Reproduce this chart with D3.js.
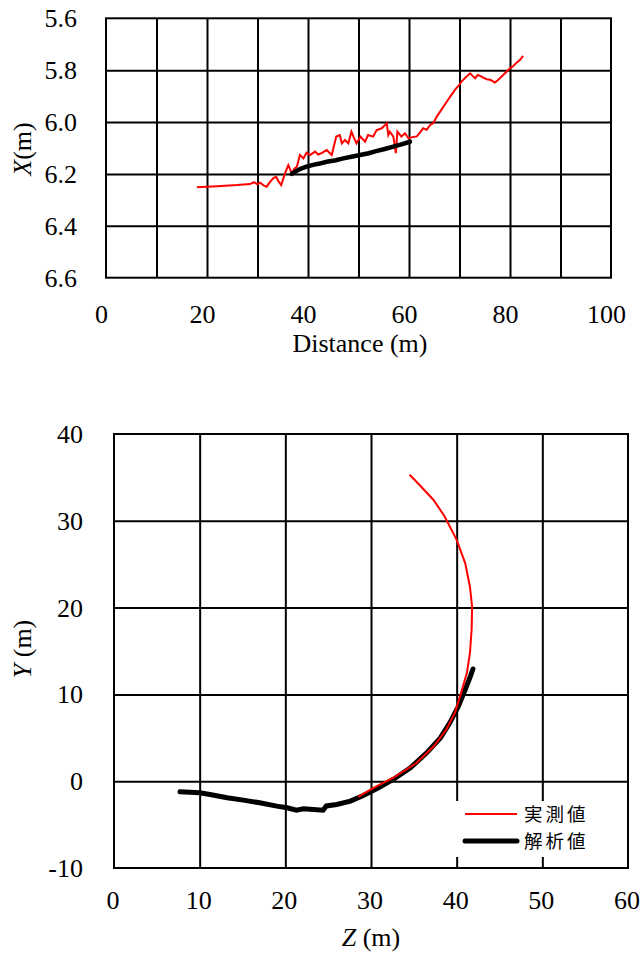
<!DOCTYPE html>
<html>
<head>
<meta charset="utf-8">
<script src="https://cdn.jsdelivr.net/npm/d3@7"></script>
<style>
  body { margin: 0; background: #fff; }
  text { font-family: "Liberation Serif", "Times New Roman", serif; fill: #000; }
  .grid line, .grid path { stroke: #000; stroke-width: 2; }
  .legend text { font-family: "Noto Sans CJK JP", sans-serif; }
</style>
</head>
<body>
<svg width="644" height="953"></svg>
<script>
// Top chart: X vs distance
const topTicksX = [0, 20, 40, 60, 80, 100];
const topTicksY = [5.6, 5.8, 6.0, 6.2, 6.4, 6.6];
const topMeasured = [
  [18.0,6.251],[22,6.247],[26,6.243],[28.5,6.239],[29.3,6.232],[30.0,6.240],[30.5,6.234],
  [31.2,6.244],[31.8,6.249],[32.6,6.228],[33.2,6.215],[33.7,6.211],[34.2,6.230],[34.7,6.243],
  [35.4,6.200],[36.1,6.166],[36.8,6.198],[37.3,6.180],[37.8,6.172],[38.4,6.127],[39.1,6.140],
  [39.7,6.118],[40.4,6.127],[41.4,6.114],[42.0,6.125],[42.7,6.120],[43.7,6.108],[44.7,6.127],
  [45.6,6.056],[46.3,6.050],[46.7,6.082],[47.3,6.069],[48.0,6.082],[48.6,6.037],[49.0,6.056],
  [49.6,6.082],[50.4,6.056],[51.3,6.076],[51.9,6.050],[52.9,6.056],[53.6,6.031],[54.6,6.024],
  [55.6,6.005],[55.9,6.050],[56.2,6.037],[56.9,6.056],[57.4,6.120],[57.7,6.037],[58.5,6.056],
  [59.2,6.043],[59.9,6.063],[60.6,6.058],[61.5,6.056],[62.2,6.040],[62.8,6.024],[63.5,6.030],
  [64.2,6.011],[64.8,6.005],[65.5,5.979],[66.5,5.950],[67.5,5.921],[68.3,5.898],[69.1,5.876],
  [69.8,5.860],[70.4,5.844],[71.2,5.828],[72.1,5.812],[72.6,5.822],[73.1,5.831],[73.6,5.818],
  [74.1,5.822],[74.8,5.830],[75.4,5.835],[76.2,5.838],[77.0,5.848],[77.5,5.840],[78.0,5.831],
  [79.0,5.812],[80.0,5.793],[80.6,5.785],[81.3,5.771],[82.0,5.760],[82.6,5.745]
];
const topAnalysed = [
  [36.8,6.200],[37.6,6.190],[38.5,6.180],[39.7,6.172],[41.0,6.165],[42.3,6.160],[43.7,6.153],
  [45.5,6.147],[47.0,6.140],[48.6,6.134],[50.3,6.127],[52.0,6.120],[53.5,6.112],[55.2,6.104],
  [56.9,6.095],[58.5,6.086],[60.2,6.076]
];

// Bottom chart: Y vs Z
const botTicksX = [0, 10, 20, 30, 40, 50, 60];
const botTicksY = [-10, 0, 10, 20, 30, 40];
const botMeasured = [
  [34.5,35.3],[35.7,34.1],[37.3,32.4],[38.6,30.5],[40.0,27.8],[41.0,25.1],[41.55,22.4],
  [41.8,20.1],[41.75,17.5],[41.55,14.8],[41.2,12.5],[40.4,9.8],[39.8,7.9],[38.8,5.95],
  [37.3,4.0],[35.3,2.1],[32.6,0.4],[30.3,-0.76],[28.5,-1.8]
];
const botAnalysed = [
  [7.7,-1.22],[10.0,-1.34],[11.2,-1.53],[13.2,-1.91],[15.1,-2.18],[17.0,-2.49],[19.0,-2.87],
  [20.2,-3.06],[21.3,-3.34],[22.1,-3.18],[23.3,-3.26],[24.4,-3.34],[24.8,-2.85],[26.0,-2.68],
  [27.6,-2.30],[29.1,-1.65],[30.7,-0.86],[32.6,0.2],[34.6,1.54],[36.5,3.27],[38.1,4.99],
  [39.2,6.72],[40.2,8.63],[41.0,10.55],[41.6,12.08],[41.9,12.93]
];
const legendNames = ["実測値", "解析値"];

const svg = d3.select("svg");

// draw one gridded chart box, returns scales
function gridChart(cfg) {
  const x = d3.scaleLinear().domain(cfg.xDomain).range([cfg.left, cfg.right]);
  const y = d3.scaleLinear().domain(cfg.yDomain).range([cfg.top, cfg.bottom]);
  const h = cfg.bottom - cfg.top, w = cfg.right - cfg.left;

  svg.append("g").attr("class", "grid")
    .attr("transform", "translate(0," + cfg.bottom + ")")
    .call(d3.axisBottom(x).tickValues(cfg.xGrid).tickSize(-h).tickFormat(""))
    .call(g => g.select(".domain").remove());
  svg.append("g").attr("class", "grid")
    .attr("transform", "translate(" + cfg.left + ",0)")
    .call(d3.axisLeft(y).tickValues(cfg.yGrid).tickSize(-w).tickFormat(""))
    .call(g => g.select(".domain").remove());
  svg.append("rect")
    .attr("x", cfg.left).attr("y", cfg.top)
    .attr("width", w).attr("height", h)
    .attr("fill", "none").attr("stroke", "#000").attr("stroke-width", 2);

  // tick labels
  svg.append("g").selectAll("text").data(cfg.xTicks).enter().append("text")
    .attr("x", d => x(d) + cfg.xLabelDx)
    .attr("y", cfg.bottom + cfg.xLabelGap)
    .attr("text-anchor", "middle")
    .attr("font-size", 26)
    .text(cfg.xFormat);
  svg.append("g").selectAll("text").data(cfg.yTicks).enter().append("text")
    .attr("x", cfg.yLabelX)
    .attr("y", d => y(d) + 9)
    .attr("text-anchor", "end")
    .attr("font-size", 26)
    .text(cfg.yFormat);
  return {x, y};
}

const line = (sc) => d3.line().x(d => sc.x(d[0])).y(d => sc.y(d[1]));
const plain = d => String(d); // keep ASCII hyphen for negatives

// ---- top chart
const t = gridChart({
  left: 106, right: 611, top: 18.3, bottom: 277.7,
  xDomain: [0, 100], yDomain: [5.6, 6.6],
  xGrid: d3.range(10, 100, 10), yGrid: [5.8, 6.0, 6.2, 6.4],
  xTicks: topTicksX, yTicks: topTicksY,
  xFormat: plain, yFormat: d3.format(".1f"),
  xLabelDx: -4.5, xLabelGap: 45, yLabelX: 77
});
svg.append("path").datum(topMeasured)
  .attr("d", line(t)).attr("fill", "none")
  .attr("stroke", "#ff0000").attr("stroke-width", 2);
svg.append("path").datum(topAnalysed)
  .attr("d", line(t)).attr("fill", "none")
  .attr("stroke", "#000").attr("stroke-width", 4.5).attr("stroke-linecap", "round");

svg.append("text").attr("x", 360).attr("y", 352)
  .attr("text-anchor", "middle").attr("font-size", 26)
  .text("Distance (m)");
const tl = svg.append("text")
  .attr("transform", "translate(31,149) rotate(-90)")
  .attr("text-anchor", "middle").attr("font-size", 26);
tl.append("tspan").attr("font-style", "italic").text("X");
tl.append("tspan").text("(m)");

// ---- bottom chart
const b = gridChart({
  left: 114, right: 628, top: 434, bottom: 868,
  xDomain: [0, 60], yDomain: [40, -10],
  xGrid: [10, 20, 30, 40, 50], yGrid: [0, 10, 20, 30],
  xTicks: botTicksX, yTicks: botTicksY,
  xFormat: plain, yFormat: plain,
  xLabelDx: -1, xLabelGap: 41, yLabelX: 83
});
svg.append("path").datum(botAnalysed)
  .attr("d", line(b)).attr("fill", "none")
  .attr("stroke", "#000").attr("stroke-width", 5).attr("stroke-linecap", "round");
svg.append("path").datum(botMeasured)
  .attr("d", line(b)).attr("fill", "none")
  .attr("stroke", "#ff0000").attr("stroke-width", 2);

svg.append("text").attr("x", 371).attr("y", 946)
  .attr("text-anchor", "middle").attr("font-size", 26)
  .call(s => {
    s.append("tspan").attr("font-style", "italic").text("Z");
    s.append("tspan").text(" (m)");
  });
svg.append("text")
  .attr("transform", "translate(31,649) rotate(-90)")
  .attr("text-anchor", "middle").attr("font-size", 26)
  .call(s => {
    s.append("tspan").attr("font-style", "italic").text("Y");
    s.append("tspan").text(" (m)");
  });

// legend
const lg = svg.append("g").attr("class", "legend");
lg.append("rect").attr("x", 453).attr("y", 801).attr("width", 144).attr("height", 56)
  .attr("fill", "#fff");
const legendStyle = [{color: "#ff0000", width: 2}, {color: "#000", width: 5}];
legendNames.forEach((name, i) => {
  const yy = 814 + i * 27;
  lg.append("line").attr("x1", 465).attr("x2", 517).attr("y1", yy).attr("y2", yy)
    .attr("stroke", legendStyle[i].color).attr("stroke-width", legendStyle[i].width)
    .attr("stroke-linecap", i ? "round" : "butt");
  lg.append("text").attr("x", 524).attr("y", yy + 6.5)
    .attr("font-size", 18.5).attr("letter-spacing", 3).text(name);
});
</script>
</body>
</html>
